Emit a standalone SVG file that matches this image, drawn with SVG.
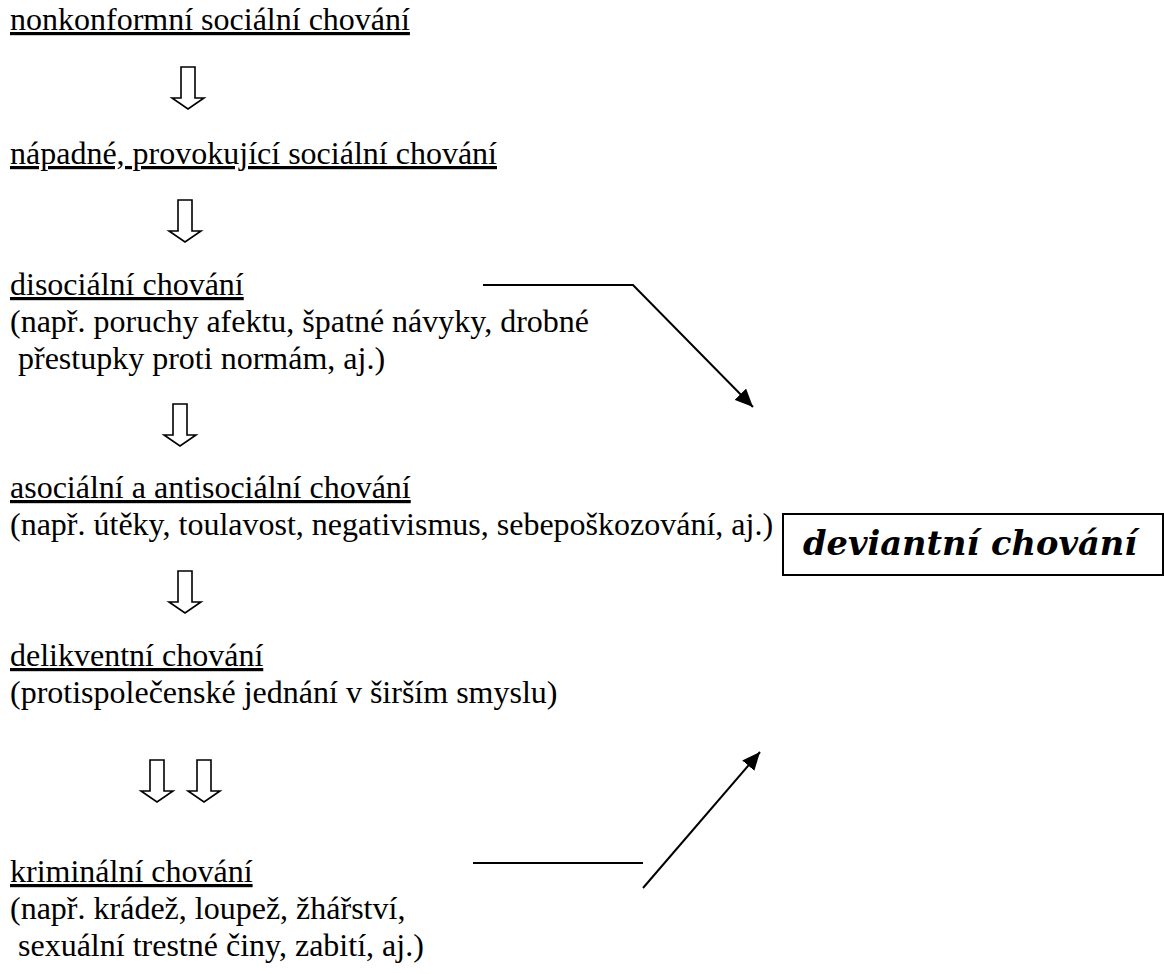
<svg xmlns="http://www.w3.org/2000/svg" xmlns:xlink="http://www.w3.org/1999/xlink" width="1164" height="974" viewBox="0 0 1164 974">
<style>
.t{font-family:"Liberation Serif","Times New Roman",serif;font-size:32px;fill:#000}
.u{text-decoration:underline}
.arr{fill:#fff;stroke:#000;stroke-width:1.6}
.con{fill:none;stroke:#000;stroke-width:2}
.dev{font-family:"DejaVu Serif",serif;font-weight:bold;font-style:italic;font-size:34px;fill:#000}
</style>
<defs>
<path id="darr" d="M-7,0 V31 H-16 L0,42 L16,31 H7 V0 Z"/>
<marker id="ah" markerWidth="20" markerHeight="16" refX="18" refY="8" orient="auto" markerUnits="userSpaceOnUse">
<path d="M0,0 L18,8 L0,16 Z" fill="#000"/>
</marker>
</defs>
<rect width="1164" height="974" fill="#fff"/>
<g id="n1"><text class="t u" x="10" y="30">nonkonformní sociální chování</text></g>
<g id="n2"><text class="t u" x="10" y="164">nápadné, provokující sociální chování</text></g>
<g id="n3"><text class="t u" x="10" y="295">disociální chování</text>
<text class="t" x="10" y="332">(např. poruchy afektu, špatné návyky, drobné</text>
<text class="t" x="18" y="369">přestupky proti normám, aj.)</text></g>
<g id="n4"><text class="t u" x="10" y="498">asociální a antisociální chování</text>
<text class="t" x="10" y="535">(např. útěky, toulavost, negativismus, sebepoškozování, aj.)</text></g>
<g id="n5"><text class="t u" x="10" y="666">delikventní chování</text>
<text class="t" x="10" y="703">(protispolečenské jednání v širším smyslu)</text></g>
<g id="n6"><text class="t u" x="10" y="882">kriminální chování</text>
<text class="t" x="10" y="919">(např. krádež, loupež, žhářství,</text>
<text class="t" x="18" y="956">sexuální trestné činy, zabití, aj.)</text></g>
<g id="dev"><path d="M783,575 V514 H1163 V575 Z" fill="none" stroke="#000" stroke-width="2"/>
<text class="dev" x="803" y="555" textLength="334" lengthAdjust="spacingAndGlyphs">deviantní chování</text></g>
<g id="arrows">
<use xlink:href="#darr" class="arr" x="188" y="67"/>
<use xlink:href="#darr" class="arr" x="185" y="200"/>
<use xlink:href="#darr" class="arr" x="180" y="404"/>
<use xlink:href="#darr" class="arr" x="185" y="571"/>
<use xlink:href="#darr" class="arr" x="157" y="760"/>
<use xlink:href="#darr" class="arr" x="204" y="760"/>
</g>
<g id="connectors">
<polyline class="con" points="483,285 633,285 753,407" marker-end="url(#ah)"/>
<line class="con" x1="473" y1="863" x2="643" y2="863"/>
<line class="con" x1="643" y1="888" x2="760" y2="752" marker-end="url(#ah)"/>
</g>
</svg>
